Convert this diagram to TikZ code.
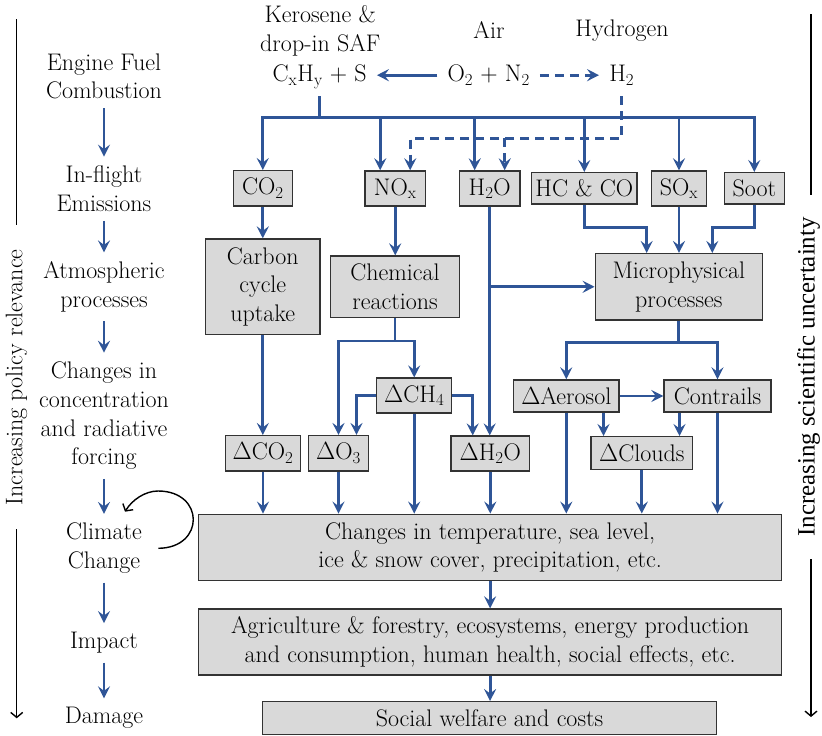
\documentclass[tikz,border=0pt]{standalone}
\usepackage{fontspec}
\newfontfamily\sidefont{Liberation Serif}
\usetikzlibrary{arrows.meta}
\definecolor{flowblue}{HTML}{2F5597}
\definecolor{boxfill}{HTML}{D9D9D9}
\definecolor{boxline}{HTML}{333333}
\newcommand\mainsz{\fontsize{24}{28.7}\selectfont}
\newcommand\sbs[1]{\textsubscript{#1}}
\begin{document}
\begin{tikzpicture}[x=1pt,y=-1pt,
  box/.style={draw=boxline, fill=boxfill, line width=1.4pt, inner sep=0pt,
              align=center, font=\mainsz},
  lbl/.style={inner sep=0pt, align=center, font=\mainsz},
  flowline/.style={draw=flowblue, line width=2.8pt},
  flow/.style={flowline, -{Stealth[length=12pt,width=12pt,inset=4.5pt]}},
  dflow/.style={flow, dash pattern=on 9pt off 6pt},
  sideline/.style={draw=black, line width=1.4pt},
  sidearrow/.style={sideline, -{Straight Barb[length=5pt,width=12pt]}}]
\useasboundingbox (0,0) rectangle (822,736);
\fill[white] (0,0) rectangle (822,736);

% ---------- fuels and air ----------
\node[lbl] (ker) at (320.3,30.8) {Kerosene \&\\drop-in SAF};
\node[lbl, anchor=base] (air) at (489,38.3) {Air};
\node[lbl, anchor=base] (hyd) at (622,36) {Hydrogen};
\node[lbl, anchor=base, inner xsep=10pt] (fuel) at (319.7,81.7) {C\sbs{x}H\sbs{y} + S};
\node[lbl, anchor=base, inner xsep=10pt] (oxy) at (488.7,81.7) {O\sbs{2} + N\sbs{2}};
\node[lbl, anchor=base, inner xsep=10pt] (h2) at (621.7,81.7) {H\sbs{2}};

\draw[flow] (oxy.west) -- (oxy.west -| fuel.east);
\draw[dflow] (oxy.east) -- (oxy.east -| h2.west);

% ---------- stage labels (left column) ----------
\node[lbl, inner ysep=9pt] (l1) at (104,76.4) {Engine Fuel\\Combustion};
\node[lbl, inner ysep=9pt] (l2) at (104,188.7) {In-flight\\Emissions};
\node[lbl, inner ysep=9pt] (l3) at (104,286.8) {Atmospheric\\processes};
\node[lbl, inner ysep=9pt] (l4) at (104,415.8) {Changes in\\concentration\\and radiative\\forcing};
\node[lbl, inner ysep=9pt] (l5) at (104,548.3) {Climate\\Change};
\node[lbl, inner ysep=9pt] (l6) at (104,642.8) {Impact};
\node[lbl, inner ysep=9pt] (l7) at (104,718.2) {Damage};
\foreach \a/\b in {l1/l2,l2/l3,l3/l4,l4/l5,l5/l6,l6/l7}
  \draw[flow] (\a) -- (\b);

% feedback loop on climate change
\coordinate (loopS) at (158.3,548.3);
\coordinate (loopT) at (158,491);
\coordinate (loopE) at (125,511.7);
\draw[sidearrow] (loopS) .. controls (205,548) and (205,491) .. (loopT)
  .. controls (145,491) and (132,500) .. (loopE);

% ---------- side axes ----------
\node[lbl, rotate=90, font=\fontsize{24}{28}\selectfont] (pol) at (16.5,377.3) {Increasing policy relevance};
\coordinate (polA) at (16.7,19);
\coordinate (polB) at (16.7,225);
\coordinate (polC) at (16.7,529.3);
\coordinate (polD) at (16.7,718.3);
\draw[sideline] (polA) -- (polB);
\draw[sidearrow] (polC) -- (polD);

\node[lbl, rotate=90, font=\sidefont\fontsize{24.9}{28}\selectfont] (sci) at (808.5,377) {Increasing scientific uncertainty};
\coordinate (sciA) at (811,14);
\coordinate (sciB) at (811,195);
\coordinate (sciC) at (811,559);
\coordinate (sciD) at (811,717);
\draw[sideline] (sciA) -- (sciB);
\draw[sidearrow] (sciC) -- (sciD);

% ---------- emissions ----------
\node[box, minimum width=59pt,   minimum height=35.3pt] (co2)  at (262.8,188.4) {CO\sbs{2}};
\node[box, minimum width=60.3pt, minimum height=35pt]   (nox)  at (395.2,188.5) {NO\sbs{x}};
\node[box, minimum width=60.7pt, minimum height=35pt]   (h2o)  at (489.7,188.5) {H\sbs{2}O};
\node[box, minimum width=105.3pt,minimum height=31.3pt] (hcco) at (584.3,188.4) {HC \& CO};
\node[box, minimum width=54.6pt, minimum height=35pt]   (sox)  at (679,188.5)   {SO\sbs{x}};
\node[box, minimum width=60pt,   minimum height=31.3pt] (soot) at (754.3,188.4) {Soot};

% ---------- atmospheric processes ----------
\node[box, minimum width=114.3pt, minimum height=95.3pt] (carbon) at (262.8,286.7) {Carbon\\cycle\\uptake};
\node[box, minimum width=129.4pt, minimum height=61.3pt] (chem)   at (395,286.7)   {Chemical\\reactions};
\node[box, minimum width=167pt,   minimum height=66.3pt] (micro)  at (678.8,286.8) {Microphysical\\processes};

% ---------- changes in concentration ----------
\node[box, minimum width=75pt,    minimum height=35pt]   (dch4)   at (414.2,395.6) {$\Delta$CH\sbs{4}};
\node[box, minimum width=105.5pt, minimum height=32pt]   (daer)   at (566.3,396)   {$\Delta$Aerosol};
\node[box, minimum width=107pt,   minimum height=32pt]   (contr)  at (717.5,396)   {Contrails};
\node[box, minimum width=74.7pt,  minimum height=35.3pt] (dco2)   at (263,453.3)   {$\Delta$CO\sbs{2}};
\node[box, minimum width=59.6pt,  minimum height=35.3pt] (do3)    at (338.5,453.3) {$\Delta$O\sbs{3}};
\node[box, minimum width=78.6pt,  minimum height=35pt]   (dh2o)   at (490.3,453.6) {$\Delta$H\sbs{2}O};
\node[box, minimum width=101.5pt, minimum height=32.6pt] (dcloud) at (641.8,453)   {$\Delta$Clouds};

% ---------- climate, impact, damage ----------
\node[box, minimum width=583.2pt, minimum height=66.4pt] (temp)   at (490.1,547.5) {Changes in temperature, sea level,\\ice \& snow cover, precipitation, etc.};
\node[box, minimum width=583.2pt, minimum height=66pt]   (agri)   at (490.1,642)   {Agriculture \& forestry, ecosystems, energy production\\and consumption, human health, social effects, etc.};
\node[box, minimum width=454.4pt, minimum height=32.6pt] (social) at (489.5,718)   {Social welfare and costs};

% ---------- helper points ----------
\coordinate (stem) at (0,96);
\coordinate (bus)  at (0,117.3);
\coordinate (dbus) at (0,138.3);
\coordinate (jy)   at (0,227.7);
\coordinate (cy)   at (0,341);
\coordinate (my)   at (0,342.7);
\coordinate (noxA) at ([xshift=-15pt]nox.north);
\coordinate (noxB) at ([xshift=15pt]nox.north);
\coordinate (h2oA) at ([xshift=-15pt]h2o.north);
\coordinate (h2oB) at ([xshift=15pt]h2o.north);
\coordinate (mA)   at ([xshift=-32.1pt]micro.north);
\coordinate (mC)   at ([xshift=33.5pt]micro.north);
\coordinate (o3B)  at ([xshift=18pt]do3.north);
\coordinate (dhA)  at ([xshift=-17.6pt]dh2o.north);
\coordinate (aerB) at ([xshift=37.2pt]daer.south);
\coordinate (conB) at ([xshift=-38pt]contr.south);

% ---------- emission tree ----------
\draw[flow] (fuel.base |- stem) -- (fuel.base |- bus) -| (co2.north);
\draw[flow] (fuel.base |- bus) -| (soot.north);
\draw[flow] (noxA |- bus) -- (noxA);
\draw[flow] (h2oA |- bus) -- (h2oA);
\draw[flow] (hcco.north |- bus) -- (hcco.north);
\draw[flow] (sox.north |- bus) -- (sox.north);

% hydrogen combustion products
\draw[dflow] (h2.base |- stem) -- (h2.base |- dbus) -| (noxB);
\draw[dflow] (h2oB |- dbus) -- (h2oB);

% ---------- emissions to processes ----------
\draw[flow] (co2) -- (carbon);
\draw[flow] (nox.south) -- (nox.south |- chem.north);
\draw[flow] (h2o.south) -- (h2o.south |- dh2o.north);
\draw[flow] (h2o.south |- micro.west) -- (micro.west);
\draw[flow] (hcco.south) |- (mA |- jy) -- (mA);
\draw[flow] (sox.south) -- (sox.south |- micro.north);
\draw[flow] (soot.south) |- (mC |- jy) -- (mC);

% ---------- processes to concentration changes ----------
\draw[flow] (carbon.south) -- (carbon.south |- dco2.north);
\draw[flowline] (chem.south) -- (chem.south |- cy);
\draw[flow] (chem.south |- cy) -| (do3.north);
\draw[flow] (chem.south |- cy) -| (dch4.north);
\draw[flow] (dch4.west) -| (o3B);
\draw[flow] (dch4.east) -| (dhA);
\draw[flowline] (micro.south) -- (micro.south |- my);
\draw[flow] (micro.south |- my) -| (daer.north);
\draw[flow] (micro.south |- my) -| (contr.north);
\draw[flow] (daer.east) -- (contr.west);
\draw[flow] (aerB) -- (aerB |- dcloud.north);
\draw[flow] (conB) -- (conB |- dcloud.north);

% ---------- into climate change ----------
\draw[flow] (dco2.south) -- (dco2.south |- temp.north);
\draw[flow] (do3.south) -- (do3.south |- temp.north);
\draw[flow] (dch4.south) -- (dch4.south |- temp.north);
\draw[flow] (dh2o.south) -- (dh2o.south |- temp.north);
\draw[flow] (daer.south) -- (daer.south |- temp.north);
\draw[flow] (dcloud.south) -- (dcloud.south |- temp.north);
\draw[flow] (contr.south) -- (contr.south |- temp.north);
\draw[flow] (temp.south) -- (temp.south |- agri.north);
\draw[flow] (agri.south) -- (agri.south |- social.north);
\end{tikzpicture}
\end{document}
